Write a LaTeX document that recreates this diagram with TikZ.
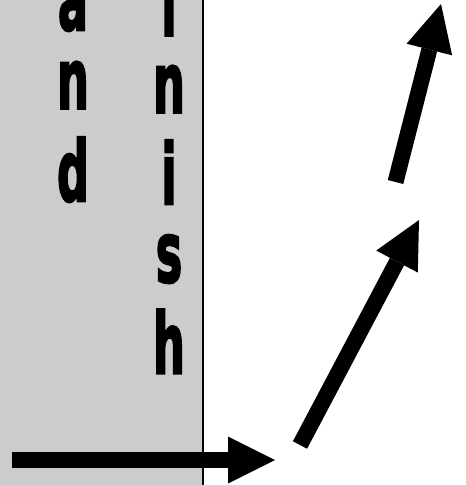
\documentclass[tikz,border=0pt]{standalone}
\usepackage{fontspec}
\usetikzlibrary{arrows.meta}
\newfontfamily\heavyfont[FakeBold=3]{DejaVu Sans Bold}
\definecolor{panelgray}{HTML}{CCCCCC}
\tikzset{
  letter/.style={font=\heavyfont\fontsize{84}{84}\selectfont, xscale=0.53, anchor=base, inner sep=0pt, text=black, text height=63pt, text depth=0pt},
  bigarrow/.style={line width=16pt, line cap=butt, draw=black,
    -{Triangle[length=47pt,width=47pt,line width=0pt]}}
}
\begin{document}
\begin{tikzpicture}[x=1pt,y=-1pt]
\useasboundingbox (0,0) rectangle (466,485);
\fill[panelgray] (-5,-5) rectangle (203,490);
\draw[line width=1.4pt] (203,-5) -- (203,490);
% column 1
\node[letter] (c1a) at (73,30) {a};
\node[letter] (c1b) at (73,108.7) {n};
\node[letter] (c1c) at (73,201) {d};
% column 2
\node[letter] (c2a) at (169,35.5) {i};
\node[letter] (c2b) at (169,112.7) {n};
\node[letter] (c2c) at (169,204) {i};
\node[letter] (c2d) at (169,282) {s};
\node[letter] (c2e) at (169,373.3) {h};
% arrows
\coordinate (t1) at (12,460);
\coordinate (h1) at (275,460);
\coordinate (t2) at (300,445);
\coordinate (h2) at (419,220);
\coordinate (t3) at (395.5,182);
\coordinate (h3) at (441,4);
\draw[bigarrow] (t1) -- (h1);
\draw[bigarrow] (t2) -- (h2);
\draw[bigarrow] (t3) -- (h3);
\end{tikzpicture}
\end{document}
